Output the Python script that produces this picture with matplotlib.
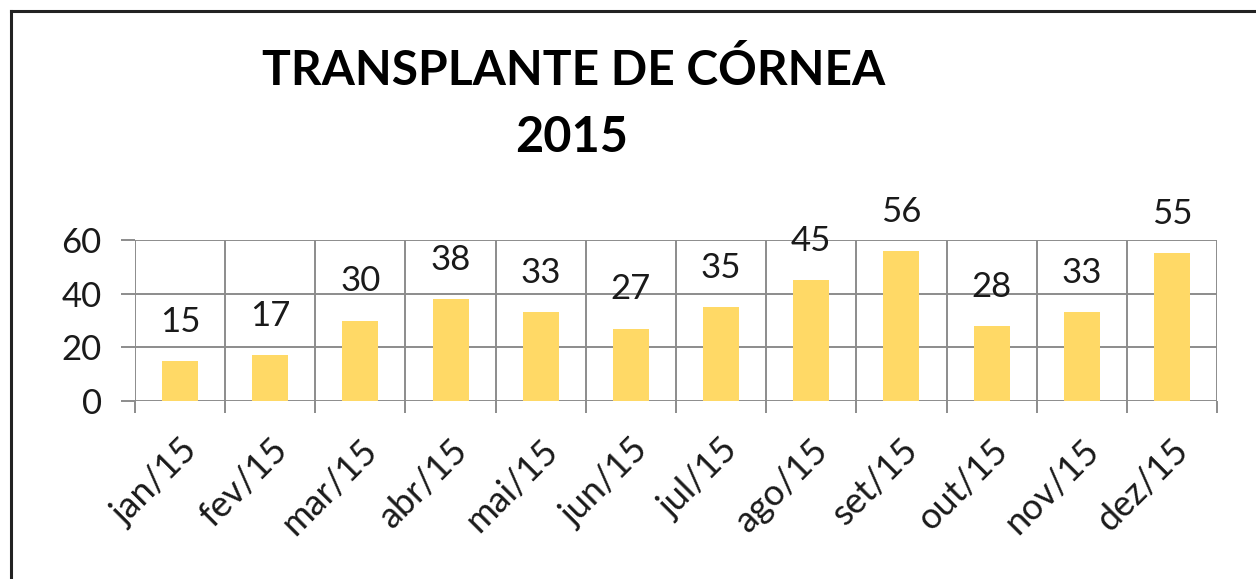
import matplotlib
matplotlib.use("Agg")
import matplotlib.pyplot as plt
from matplotlib.lines import Line2D

months = ["jan/15", "fev/15", "mar/15", "abr/15", "mai/15", "jun/15",
          "jul/15", "ago/15", "set/15", "out/15", "nov/15", "dez/15"]
values = [15, 17, 30, 38, 33, 27, 35, 45, 56, 28, 33, 55]
yticks = [0, 20, 40, 60]
title_lines = ["TRANSPLANTE DE CÓRNEA", "2015"]

plt.rcParams['font.family'] = ['Lato', 'DejaVu Sans']

W, H = 1256, 579
fig = plt.figure(figsize=(W / 100, H / 100), dpi=100)
fig.patch.set_facecolor("white")

ax = fig.add_axes([135 / W, 1 - 401 / H, (1217 - 135) / W, (401 - 240) / H])
ax.set_facecolor("white")

x = list(range(len(months)))
bars = ax.bar(x, values, width=0.4, color="#FFD966", zorder=3)

for xi, v in zip(x, values):
    ax.annotate(str(v), (xi, v), xytext=(0, 21), textcoords="offset points",
                ha="center", va="baseline", fontsize=25, color="#1a1a1a")

ax.set_xlim(-0.5, len(months) - 0.5)
ax.set_ylim(0, 60)
ax.set_yticks(yticks)
ax.set_yticklabels([str(t) for t in yticks], fontsize=25, color="#1a1a1a")

ax.set_xticks(x)
ax.set_xticklabels(months, rotation=45, ha="right", va="top",
                   rotation_mode="anchor", fontsize=26, color="#1a1a1a")
ax.tick_params(axis="x", which="major", length=0, pad=23)
ax.set_xticks([i - 0.5 for i in range(len(months) + 1)], minor=True)
ax.tick_params(axis="x", which="minor", length=8.5, width=1.4, color="#8c8c8c")
ax.tick_params(axis="y", which="major", length=10, width=1.4, color="#8c8c8c", pad=14)

gc = "#8c8c8c"
ax.grid(True, axis="y", which="major", color=gc, linewidth=1.4, zorder=1)
ax.grid(True, axis="x", which="minor", color=gc, linewidth=1.4, zorder=1)
ax.grid(False, axis="x", which="major")
for s in ["top", "right", "bottom", "left"]:
    ax.spines[s].set_visible(False)
ax.set_axisbelow(True)

fig.text(574 / W, 1 - 70 / H, title_lines[0], ha="center", va="center",
         fontsize=34.5, fontweight="bold", color="black")
fig.text(572 / W, 1 - 137 / H, title_lines[1], ha="center", va="center",
         fontsize=35, fontweight="bold", color="black")

# figure frame (left and top)
fig.add_artist(Line2D([11 / W, 11 / W], [0, 1 - 11 / H], transform=fig.transFigure,
                      color="#222222", linewidth=2.2))
fig.add_artist(Line2D([11 / W, 1], [1 - 11 / H, 1 - 11 / H], transform=fig.transFigure,
                      color="#222222", linewidth=2.2))

fig.savefig("out.png", dpi=100, facecolor="white")
